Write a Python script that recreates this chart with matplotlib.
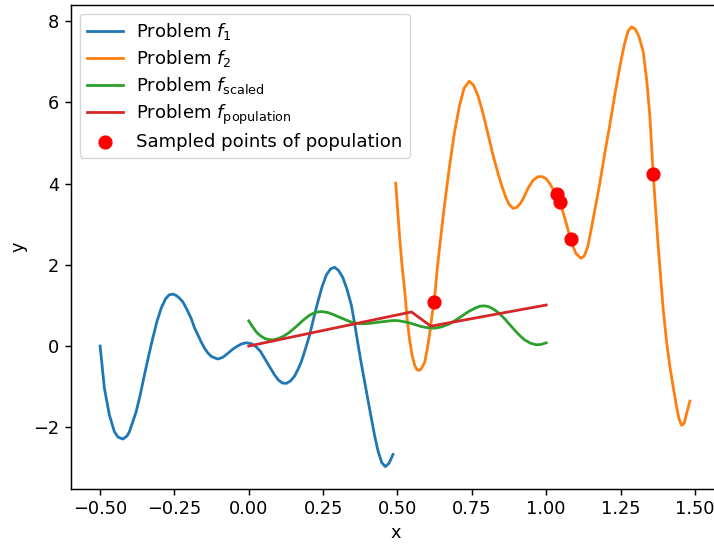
import matplotlib
matplotlib.use("Agg")
import matplotlib.pyplot as plt

# Problem f1 (blue)
f1_x = [-0.500, -0.493, -0.4855, -0.4687, -0.4519, -0.440, -0.4239, -0.410, -0.4014, -0.3788,
        -0.365, -0.3509, -0.337, -0.3230, -0.309, -0.2947, -0.280, -0.268, -0.2556, -0.243,
        -0.232, -0.2220, -0.208, -0.1937, -0.1826, -0.1715, -0.160, -0.149, -0.1378, -0.125,
        -0.1042, -0.088, -0.0705, -0.056, -0.0422, -0.025, -0.0086, 0.008, 0.0251, 0.040,
        0.0530, 0.070, 0.0867, 0.100, 0.113, 0.1261, 0.140, 0.1540, 0.165, 0.1765,
        0.190, 0.2045, 0.218, 0.2324, 0.246, 0.2607, 0.275, 0.2886, 0.302, 0.3166,
        0.330, 0.3448, 0.356, 0.3671, 0.378, 0.3896, 0.401, 0.4121, 0.423, 0.4344,
        0.447, 0.4593, 0.472, 0.4849]
f1_y = [0.00, -0.50, -1.04, -1.70, -2.11, -2.24, -2.29, -2.22, -2.11, -1.62,
        -1.20, -0.71, -0.25, 0.19, 0.60, 0.93, 1.16, 1.26, 1.28, 1.24,
        1.17, 1.09, 0.90, 0.68, 0.45, 0.28, 0.10, -0.05, -0.17, -0.26,
        -0.32, -0.28, -0.18, -0.09, -0.02, 0.05, 0.08, 0.06, -0.02, -0.14,
        -0.30, -0.51, -0.71, -0.84, -0.91, -0.92, -0.86, -0.74, -0.58, -0.39,
        -0.08, 0.27, 0.68, 1.09, 1.45, 1.75, 1.90, 1.94, 1.86, 1.68,
        1.40, 1.01, 0.55, 0.05, -0.42, -0.88, -1.34, -1.78, -2.20, -2.58,
        -2.87, -2.97, -2.88, -2.67]

# Problem f2 (orange)
f2_x = [0.494, 0.500, 0.507, 0.515, 0.524, 0.532, 0.5407, 0.549, 0.5576, 0.565,
        0.5722, 0.580, 0.5914, 0.600, 0.6083, 0.617, 0.6251, 0.633, 0.6419, 0.652,
        0.663, 0.6744, 0.6913, 0.708, 0.724, 0.7412, 0.755, 0.770, 0.785, 0.8034,
        0.8213, 0.838, 0.852, 0.864, 0.876, 0.8886, 0.900, 0.912, 0.9222, 0.940,
        0.9559, 0.972, 0.9875, 1.000, 1.0121, 1.0347, 1.048, 1.0626, 1.075, 1.0852,
        1.100, 1.117, 1.128, 1.140, 1.152, 1.166, 1.1804, 1.197, 1.2141, 1.231,
        1.2477, 1.262, 1.275, 1.287, 1.300, 1.312, 1.3262, 1.338, 1.3487, 1.3598,
        1.3767, 1.3935, 1.405, 1.416, 1.428, 1.4386, 1.447, 1.4554, 1.464, 1.4722,
        1.4833]
f2_y = [4.01, 3.40, 2.70, 2.00, 1.38, 0.70, 0.15, -0.22, -0.47, -0.58,
        -0.60, -0.56, -0.40, -0.08, 0.31, 0.80, 1.22, 1.85, 2.45, 3.10,
        3.75, 4.40, 5.25, 5.90, 6.35, 6.52, 6.43, 6.18, 5.80, 5.25,
        4.70, 4.25, 3.92, 3.66, 3.48, 3.39, 3.41, 3.50, 3.62, 3.90,
        4.08, 4.17, 4.17, 4.12, 4.00, 3.72, 3.50, 3.15, 2.82, 2.55,
        2.28, 2.16, 2.22, 2.45, 2.90, 3.45, 4.01, 4.75, 5.45, 6.20,
        6.88, 7.40, 7.75, 7.86, 7.80, 7.62, 7.25, 6.55, 5.65, 4.23,
        2.45, 0.90, 0.10, -0.51, -1.05, -1.50, -1.80, -1.95, -1.90, -1.66,
        -1.355]

# Problem f_scaled (green)
fs_x = [0.0, 0.0125, 0.0249, 0.038, 0.0528, 0.066, 0.0808, 0.097, 0.1144, 0.137,
        0.1595, 0.182, 0.2043, 0.224, 0.2437, 0.263, 0.2827, 0.305, 0.3278, 0.345,
        0.3615, 0.378, 0.3952, 0.418, 0.4399, 0.4736, 0.4904, 0.5072, 0.5352, 0.558,
        0.5803, 0.602, 0.6250, 0.647, 0.6698, 0.692, 0.7149, 0.737, 0.7597, 0.777,
        0.7933, 0.810, 0.8270, 0.844, 0.8606, 0.877, 0.8943, 0.911, 0.9279, 0.947,
        0.9673, 0.983, 1.0]
fs_y = [0.62, 0.48, 0.35, 0.26, 0.19, 0.16, 0.15, 0.18, 0.23, 0.34,
        0.48, 0.63, 0.76, 0.83, 0.85, 0.83, 0.78, 0.71, 0.64, 0.59,
        0.56, 0.55, 0.55, 0.57, 0.59, 0.62, 0.63, 0.62, 0.58, 0.53,
        0.48, 0.45, 0.44, 0.47, 0.53, 0.62, 0.73, 0.84, 0.93, 0.98,
        0.99, 0.96, 0.89, 0.79, 0.67, 0.53, 0.39, 0.26, 0.15, 0.07,
        0.03, 0.04, 0.08]

# Problem f_population (red)
fp_x = [0.0, 0.547, 0.612, 1.0]
fp_y = [0.0, 0.84, 0.49, 1.01]

# Sampled points
pts_x = [0.623, 1.037, 1.047, 1.082, 1.360]
pts_y = [1.09, 3.74, 3.54, 2.63, 4.23]

plt.rcParams['font.family'] = ['DejaVu Sans']
fs = 13.1
fig = plt.figure(figsize=(7.14, 5.45), dpi=100)
ax = fig.add_axes([70.5 / 714, 56 / 545, 651 / 714, 484.5 / 545])

ax.plot(f1_x, f1_y, color='tab:blue', lw=2.0, label=r'Problem $f_1$')
ax.plot(f2_x, f2_y, color='tab:orange', lw=2.0, label=r'Problem $f_2$')
ax.plot(fs_x, fs_y, color='tab:green', lw=2.0, label=r'Problem $f_{\mathrm{scaled}}$')
ax.plot(fp_x, fp_y, color='tab:red', lw=2.0, label=r'Problem $f_{\mathrm{population}}$')
ax.scatter(pts_x, pts_y, color='red', s=85, zorder=5, label='Sampled points of population')

ax.set_xlim(-0.5995, 1.5895)
ax.set_ylim(-3.52, 8.41)
ax.set_xticks([-0.5, -0.25, 0.0, 0.25, 0.5, 0.75, 1.0, 1.25, 1.5])
ax.set_yticks([-2, 0, 2, 4, 6, 8])
ax.tick_params(labelsize=12.8, length=4.6, width=1.05)
for s in ax.spines.values():
    s.set_linewidth(1.05)
ax.set_xlabel('x', fontsize=12.8)
ax.set_ylabel('y', fontsize=12.8)
ax.legend(loc='upper left', fontsize=fs, borderaxespad=0.5, labelspacing=0.34,
          handletextpad=0.7)

fig.savefig('out.png', dpi=100)
